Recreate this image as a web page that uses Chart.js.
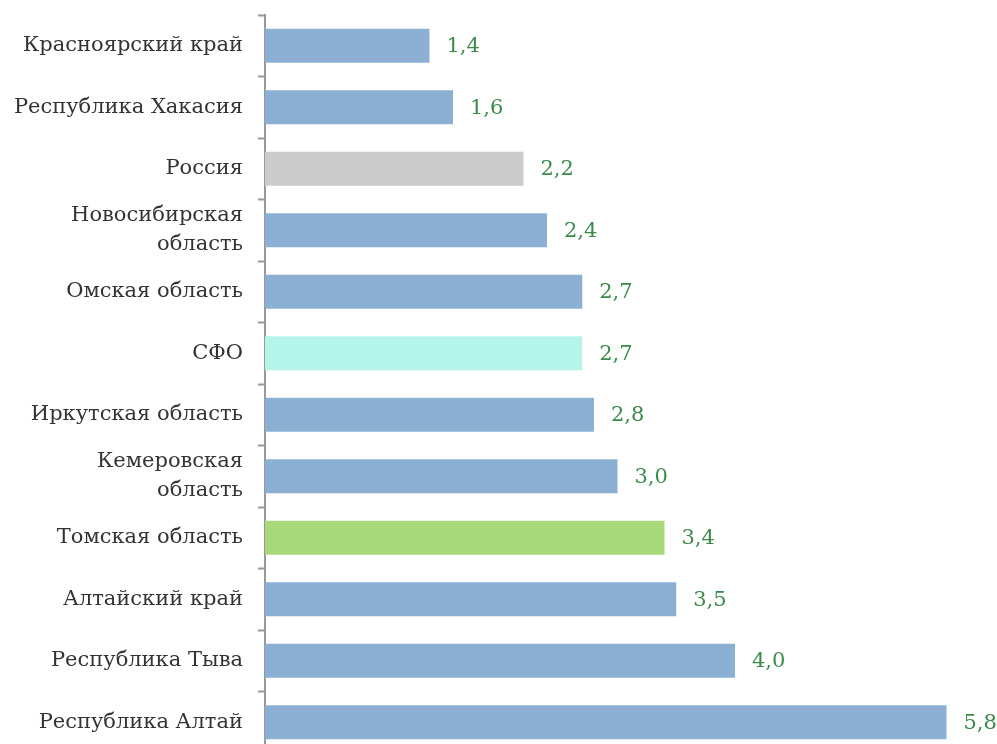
<!DOCTYPE html>
<html>
<head>
<meta charset="utf-8">
<script src="https://cdn.jsdelivr.net/npm/chart.js@4"></script>
<style>
  html, body { margin: 0; padding: 0; background: #fff; overflow: hidden; height: 744px; }
  #wrap { width: 997px; height: 753px; position: relative; }
</style>
</head>
<body>
<div id="wrap"><canvas id="chart"></canvas></div>
<script>
const regions = [
  'Красноярский край',
  'Республика Хакасия',
  'Россия',
  ['Новосибирская', 'область'],
  'Омская область',
  'СФО',
  'Иркутская область',
  ['Кемеровская', 'область'],
  'Томская область',
  'Алтайский край',
  'Республика Тыва',
  'Республика Алтай'
];
const values = [1.4, 1.6, 2.2, 2.4, 2.7, 2.7, 2.8, 3.0, 3.4, 3.5, 4.0, 5.8];
const barColors = [
  '#8cb0d3', '#8cb0d3', '#cccccc', '#8cb0d3', '#8cb0d3', '#b4f4ea',
  '#8cb0d3', '#8cb0d3', '#a8d978', '#8cb0d3', '#8cb0d3', '#8cb0d3'
];

// value labels to the right of each bar, comma as decimal mark
const valueLabels = {
  id: 'valueLabels',
  afterDatasetsDraw(chart) {
    const ctx = chart.ctx;
    const meta = chart.getDatasetMeta(0);
    ctx.save();
    ctx.font = '21px "DejaVu Serif", serif';
    ctx.fillStyle = '#3b8a4c';
    ctx.textAlign = 'left';
    ctx.textBaseline = 'middle';
    meta.data.forEach((bar, i) => {
      ctx.fillText(values[i].toFixed(1).replace('.', ','), bar.x + 17, bar.y + 1);
    });
    ctx.restore();
  }
};

new Chart(document.getElementById('chart').getContext('2d'), {
  type: 'bar',
  data: {
    labels: regions,
    datasets: [{
      data: values,
      backgroundColor: barColors,
      borderWidth: 0,
      categoryPercentage: 1,
      barPercentage: 0.55
    }]
  },
  options: {
    indexAxis: 'y',
    responsive: true,
    maintainAspectRatio: false,
    animation: false,
    layout: { padding: { top: 15, right: 27, left: 0, bottom: 0 } },
    plugins: { legend: { display: false }, tooltip: { enabled: false } },
    scales: {
      x: { display: false, min: 0, max: 6 },
      y: {
        afterFit(scale) {
          scale.width = 265;
          scale.paddingTop = 0;
          scale.paddingBottom = 0;
        },
        grid: {
          drawOnChartArea: false,
          tickLength: 7,
          tickColor: '#999999',
          tickWidth: 2
        },
        border: { color: '#999999', width: 2 },
        ticks: {
          color: '#333333',
          padding: 15,
          font: { family: '"DejaVu Serif", serif', size: 21, lineHeight: 1.38 }
        }
      }
    }
  },
  plugins: [valueLabels]
});
</script>
</body>
</html>
